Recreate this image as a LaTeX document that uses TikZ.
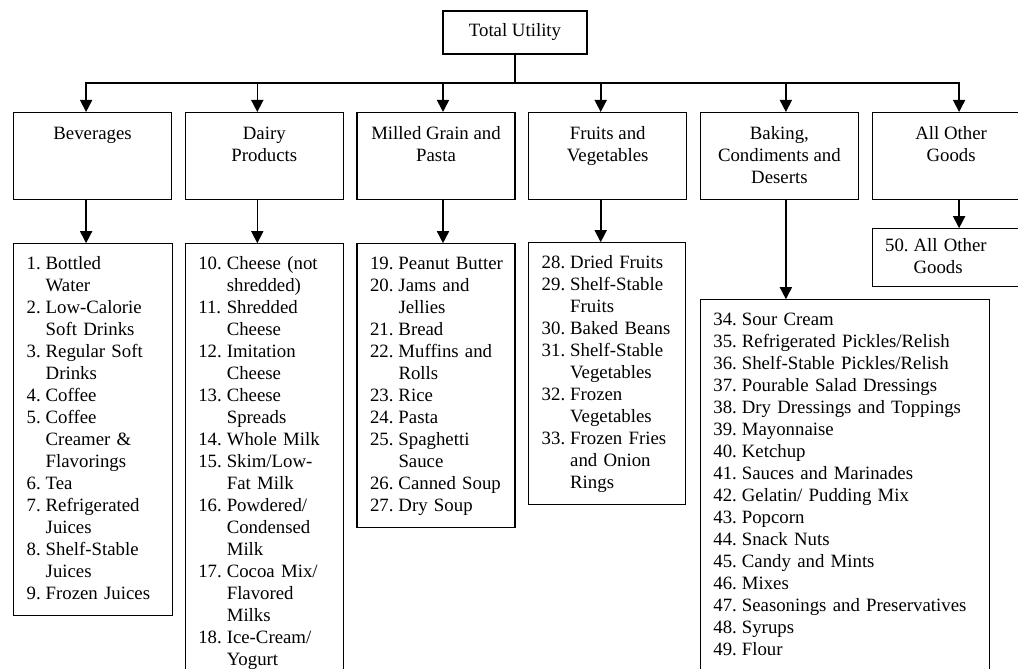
\documentclass[tikz,border=0pt]{standalone}
\usepackage{fontspec}
\setmainfont{Liberation Serif}
\usepackage{tikz}
\usetikzlibrary{arrows.meta, positioning}
\newcommand{\catname}[1]{\parbox[c][65pt][t]{150pt}{\centering\strut #1}}
\newcommand{\goodslist}[1]{\begin{tabular}{@{}l@{\hspace{5pt}}l@{}}#1\end{tabular}}
\tikzset{%
	txt/.style={font=\fontsize{18.8}{22}\selectfont},
	total/.style={draw, txt, line width=1.2pt, minimum width=144pt, minimum height=43pt},
	cat/.style={draw, txt, line width=1.2pt, inner xsep=4pt, inner ysep=11pt},
	goods/.style={draw, txt, line width=1.2pt, inner xsep=13pt, inner ysep=10pt,%
		align=left},
	conn/.style={line width=1.6pt, -{Triangle[width=12pt, length=12pt]}}
}

\begin{document}
\begin{tikzpicture}[x=1pt, y=-1pt]
	\useasboundingbox (0,0) rectangle (1018,669);
	\clip (0,0) rectangle (1018,669);

	\node[total] (top) at (515,32.5) {Total Utility};

	% categories
	\node[cat, anchor=north west] (bev) at (13,112) {\catname{Beverages}};
	\node[cat, right=12.5pt of bev]    (dairy)  {\catname{Dairy\\Products}};
	\node[cat, right=12.5pt of dairy]  (milled) {\catname{Milled Grain and\\Pasta}};
	\node[cat, right=12.5pt of milled] (fruit)  {\catname{Fruits and\\Vegetables}};
	\node[cat, right=12.5pt of fruit]  (bake)   {\catname{Baking,\\Condiments and\\Deserts}};
	\node[cat, right=12.5pt of bake]   (other)  {\catname{All Other\\Goods}};

	% goods
	\node[goods, text width=133pt, below=43pt of bev.south west, anchor=north west] (bevl)
		{\goodslist{1. & Bottled\\ & Water\\ 2. & Low-Calorie\\ & Soft Drinks\\
		3. & Regular Soft\\ & Drinks\\ 4. & Coffee\\ 5. & Coffee\\ & Creamer \&\\
		& Flavorings\\ 6. & Tea\\ 7. & Refrigerated\\ & Juices\\ 8. & Shelf-Stable\\
		& Juices\\ 9. & Frozen Juices}};
	\node[goods, text width=132pt, below=43pt of dairy.south west, anchor=north west] (dairyl)
		{\goodslist{10. & Cheese (not\\ & shredded)\\ 11. & Shredded\\ & Cheese\\
		12. & Imitation\\ & Cheese\\ 13. & Cheese\\ & Spreads\\ 14. & Whole Milk\\
		15. & Skim/Low-\\ & Fat Milk\\ 16. & Powdered/\\ & Condensed\\ & Milk\\
		17. & Cocoa Mix/\\ & Flavored\\ & Milks\\ 18. & Ice-Cream/\\ & Yogurt}};
	\node[goods, text width=132pt, below=43pt of milled.south west, anchor=north west] (milledl)
		{\goodslist{19. & Peanut Butter\\ 20. & Jams and\\ & Jellies\\ 21. & Bread\\
		22. & Muffins and\\ & Rolls\\ 23. & Rice\\ 24. & Pasta\\ 25. & Spaghetti\\
		& Sauce\\ 26. & Canned Soup\\ 27. & Dry Soup}};
	\node[goods, text width=131pt, below=42pt of fruit.south west, anchor=north west] (fruitl)
		{\goodslist{28. & Dried Fruits\\ 29. & Shelf-Stable\\ & Fruits\\
		30. & Baked Beans\\ 31. & Shelf-Stable\\ & Vegetables\\ 32. & Frozen\\
		& Vegetables\\ 33. & Frozen Fries\\ & and Onion\\ & Rings}};
	\node[goods, text width=263pt, below=99pt of bake.south west, anchor=north west] (bakel)
		{\goodslist{34. & Sour Cream\\ 35. & Refrigerated Pickles/Relish\\
		36. & Shelf-Stable Pickles/Relish\\ 37. & Pourable Salad Dressings\\
		38. & Dry Dressings and Toppings\\ 39. & Mayonnaise\\ 40. & Ketchup\\
		41. & Sauces and Marinades\\ 42. & Gelatin/ Pudding Mix\\ 43. & Popcorn\\
		44. & Snack Nuts\\ 45. & Candy and Mints\\ 46. & Mixes\\
		47. & Seasonings and Preservatives\\ 48. & Syrups\\ 49. & Flour\\[8pt]}};
	\node[goods, text width=132pt, inner ysep=7pt, below=28pt of other.south west,%
		anchor=north west] (otherl)
		{\goodslist{50. & All Other\\ & Goods}};

	% total -> categories
	\draw[conn] (top.south) |- ([xshift=-6.5pt, yshift=29pt]bev.north) -- ([xshift=-6.5pt]bev.north);
	\draw[conn] (top.south) |- ([xshift=-7pt, yshift=29pt]dairy.north) -- ([xshift=-7pt]dairy.north);
	\draw[conn] (top.south) |- ([xshift=7pt, yshift=29pt]milled.north) -- ([xshift=7pt]milled.north);
	\draw[conn] (top.south) |- ([xshift=-7pt, yshift=29pt]fruit.north) -- ([xshift=-7pt]fruit.north);
	\draw[conn] (top.south) |- ([xshift=6.5pt, yshift=29pt]bake.north) -- ([xshift=6.5pt]bake.north);
	\draw[conn] (top.south) |- ([xshift=8pt, yshift=29pt]other.north) -- ([xshift=8pt]other.north);

	% categories -> goods
	\draw[conn] ([xshift=-6.5pt]bev.south) -- ([xshift=-6.5pt]bev.south |- bevl.north);
	\draw[conn] ([xshift=-7pt]dairy.south) -- ([xshift=-7pt]dairy.south |- dairyl.north);
	\draw[conn] ([xshift=7pt]milled.south) -- ([xshift=7pt]milled.south |- milledl.north);
	\draw[conn] ([xshift=-7pt]fruit.south) -- ([xshift=-7pt]fruit.south |- fruitl.north);
	\draw[conn] ([xshift=6.5pt]bake.south) -- ([xshift=6.5pt]bake.south |- bakel.north);
	\draw[conn] ([xshift=8pt]other.south) -- ([xshift=8pt]other.south |- otherl.north);
\end{tikzpicture}
\end{document}
